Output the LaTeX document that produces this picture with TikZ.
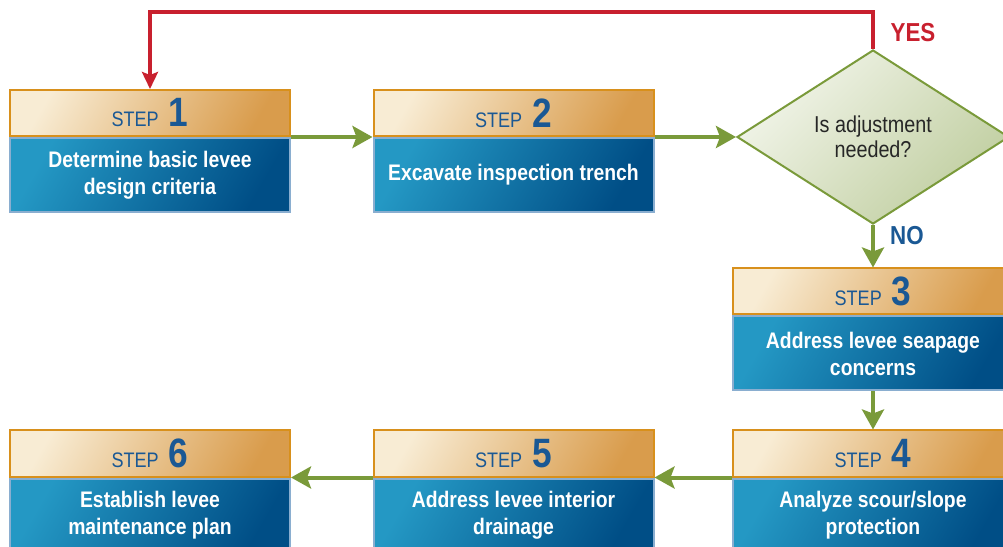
\documentclass[tikz,border=0pt]{standalone}
\usepackage{fontspec}
\setmainfont[FakeStretch=0.86]{Liberation Sans}
\definecolor{hdrlight}{RGB}{248, 236, 212}
\definecolor{hdrdark}{RGB}{217, 156, 76}
\definecolor{hdrline}{RGB}{216, 144, 28}
\definecolor{bodylight}{RGB}{36, 152, 196}
\definecolor{bodydark}{RGB}{0, 78, 134}
\definecolor{bodyline}{RGB}{138, 174, 208}
\definecolor{declight}{RGB}{242, 245, 234}
\definecolor{decdark}{RGB}{192, 206, 160}
\definecolor{flowgreen}{RGB}{122, 154, 58}
\definecolor{yesred}{RGB}{200, 32, 46}
\definecolor{stepblue}{RGB}{26, 88, 148}
\usepackage{tikz}
\usetikzlibrary{arrows.meta, positioning, shapes.geometric}

\begin{document}
\begin{tikzpicture}[x=1pt, y=1pt,
    stephdr/.style={draw=hdrline, line width=2pt, top color=hdrlight, bottom color=hdrdark, shading angle=60,
        minimum width=280pt, minimum height=46pt, inner sep=0pt, text=stepblue, font=\fontsize{21}{24}\selectfont},
    stepbody/.style={draw=bodyline, line width=2pt, top color=bodylight, bottom color=bodydark, shading angle=60,
        minimum width=280pt, minimum height=74pt, inner sep=0pt, text=white, align=center,
        font=\fontsize{22.5}{27}\selectfont\bfseries},
    flow/.style={draw=flowgreen, line width=4pt, -{Stealth[length=20pt, width=22pt, inset=4pt]}},
    yesflow/.style={draw=yesred, line width=3.5pt, -{Stealth[length=17pt, width=16pt, inset=3pt]}}]
        \clip (0,0) rectangle (1003,546);
        % Nodes
        \node[stephdr] (hdr1) at (150,433) {STEP\hspace{10pt}\fontsize{41}{42}\selectfont\bfseries 1};
        \node[stepbody, below=0pt of hdr1] (body1) {Determine basic levee\\design criteria};

        \node[stephdr] (hdr2) at (513.5,433) {STEP\hspace{10pt}\fontsize{41}{42}\selectfont\bfseries 2};
        \node[stepbody, below=0pt of hdr2] (body2) {Excavate inspection trench};

        \node[draw=flowgreen, line width=2pt, diamond, aspect=1.56, minimum width=272pt, minimum height=174pt,
            inner sep=0pt, top color=declight, bottom color=decdark, shading angle=45, align=center,
            text=black!85, font=\fontsize{23}{25}\selectfont] (dec) at (873,409) {Is adjustment\\needed?};

        \node[stephdr] (hdr3) at (873,254.5) {STEP\hspace{10pt}\fontsize{41}{42}\selectfont\bfseries 3};
        \node[stepbody, below=0pt of hdr3] (body3) {Address levee seapage\\concerns};

        \node[stephdr] (hdr4) at (873,92.5) {STEP\hspace{10pt}\fontsize{41}{42}\selectfont\bfseries 4};
        \node[stepbody, below=0pt of hdr4] (body4) {Analyze scour/slope\\protection};

        \node[stephdr] (hdr5) at (513.5,92.5) {STEP\hspace{10pt}\fontsize{41}{42}\selectfont\bfseries 5};
        \node[stepbody, below=0pt of hdr5] (body5) {Address levee interior\\drainage};

        \node[stephdr] (hdr6) at (150,92.5) {STEP\hspace{10pt}\fontsize{41}{42}\selectfont\bfseries 6};
        \node[stepbody, below=0pt of hdr6] (body6) {Establish levee\\maintenance plan};

        \coordinate (loop) at (873,534);
        \node[text=yesred, font=\fontsize{26}{28}\selectfont\bfseries] (yes) at (913,513) {YES};
        \node[text=stepblue, font=\fontsize{26}{28}\selectfont\bfseries] (no) at (907,310) {NO};

        % Arrows
        \draw[flow] (hdr1.south east) -- (hdr2.south west);
        \draw[flow] (hdr2.south east) -- (hdr2.south east -| dec.west);
        \draw[flow] (dec.south) -- (hdr3.north);
        \draw[flow] (body3.south) -- (hdr4.north);
        \draw[flow] (hdr4.south west) -- (hdr5.south east);
        \draw[flow] (hdr5.south west) -- (hdr6.south east);
        \draw[yesflow] (dec.north) -- (loop) -| (hdr1.north);
    \end{tikzpicture}
\end{document}
